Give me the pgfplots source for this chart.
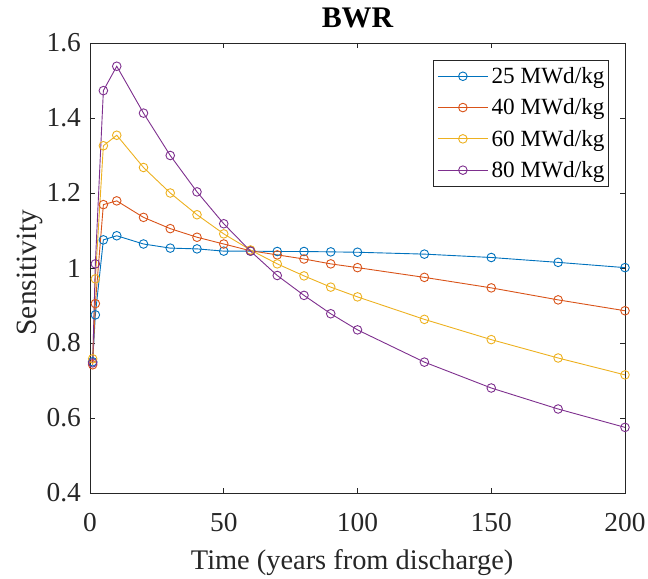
\documentclass[border=0pt]{standalone}
\usepackage{pgfplots}
\pgfplotsset{compat=1.18}
\usepackage{fontspec}
\setmainfont{Liberation Serif}
\definecolor{mblue}{rgb}{0,0.447,0.741}
\definecolor{mred}{rgb}{0.85,0.325,0.098}
\definecolor{myellow}{rgb}{0.929,0.694,0.125}
\definecolor{mpurple}{rgb}{0.494,0.184,0.556}
\definecolor{mgray}{rgb}{0.15,0.15,0.15}
\begin{document}
\begin{tikzpicture}
\begin{axis}[
  name=ax,
  scale only axis, width=535bp, height=450bp,
  xmin=0, xmax=200, ymin=0.4, ymax=1.6,
  xtick={0,50,100,150,200},
  ytick={0.4,0.6,0.8,1,1.2,1.4,1.6},
  yticklabels={0.4,0.6,0.8,1,1.2,1.4,1.6},
  tick align=inside, major tick length=5.5bp,
  axis line style={mgray, line width=0.9bp},
  every tick/.style={mgray, line width=0.9bp},
  /pgf/number format/assume math mode=true,
  tick label style={font=\fontsize{27.5}{30}\selectfont, text=mgray, inner sep=0pt},
  xticklabel style={yshift=-20bp},
  yticklabel style={xshift=-9bp},
  title={BWR},
  title style={font=\fontsize{30}{34}\selectfont\bfseries, inner sep=0pt,
    at={(axis description cs:0.5,1.0216)}, anchor=base},
  xlabel={Time (years from discharge)},
  ylabel={Sensitivity},
  xlabel style={font=\fontsize{28.5}{32}\selectfont, text=mgray, inner sep=0pt,
    at={(axis description cs:0.49,-0.1711)}, anchor=base},
  ylabel style={font=\fontsize{29.5}{32}\selectfont, text=mgray, inner sep=0pt,
    at={(axis description cs:-0.0884,0.49)}, anchor=south, rotate=0},
  legend style={at={(rel axis cs:0.6411,0.9622)}, anchor=north west,
    font=\fontsize{23.3}{26}\selectfont, draw=mgray, line width=0.9bp,
    inner xsep=4bp, inner ysep=7bp, row sep=13.7bp, column sep=3.3bp,
    nodes={inner sep=0pt},
    column 2/.style={nodes={text width=127bp, text height=17bp, text depth=1bp, align=left}}},
  legend cell align=left,
  legend image code/.code={
    \draw[mark repeat=2,mark phase=2] plot coordinates {(0bp,0bp) (25bp,0bp) (50bp,0bp)};
  },
  every axis plot/.append style={line width=0.9bp, mark=o, mark size=4.3bp, mark options={line width=0.9bp}},
]
\addplot[mblue] coordinates {
(1,0.75) (2,0.875) (5,1.075) (10,1.086) (20,1.064) (30,1.053) (40,1.051) (50,1.045) (60,1.045)
(70,1.044) (80,1.044) (90,1.043) (100,1.042) (125,1.037) (150,1.028) (175,1.015) (200,1.001)};
\addlegendentry{25 MWd/kg}
\addplot[mred] coordinates {
(1,0.742) (2,0.905) (5,1.169) (10,1.179) (20,1.135) (30,1.105) (40,1.082) (50,1.064) (60,1.046)
(70,1.035) (80,1.024) (90,1.011) (100,1.001) (125,0.975) (150,0.947) (175,0.915) (200,0.886)};
\addlegendentry{40 MWd/kg}
\addplot[myellow] coordinates {
(1,0.758) (2,0.971) (5,1.326) (10,1.354) (20,1.268) (30,1.200) (40,1.142) (50,1.091) (60,1.048)
(70,1.011) (80,0.979) (90,0.949) (100,0.923) (125,0.863) (150,0.809) (175,0.760) (200,0.715)};
\addlegendentry{60 MWd/kg}
\addplot[mpurple] coordinates {
(1,0.747) (2,1.011) (5,1.473) (10,1.538) (20,1.413) (30,1.300) (40,1.203) (50,1.118) (60,1.045)
(70,0.980) (80,0.927) (90,0.878) (100,0.835) (125,0.749) (150,0.680) (175,0.624) (200,0.575)};
\addlegendentry{80 MWd/kg}
\end{axis}
\pgfresetboundingbox
\path ([shift={(-90bp,-86bp)}]ax.south west) rectangle ([shift={(23bp,43bp)}]ax.north east);
\end{tikzpicture}
\end{document}
